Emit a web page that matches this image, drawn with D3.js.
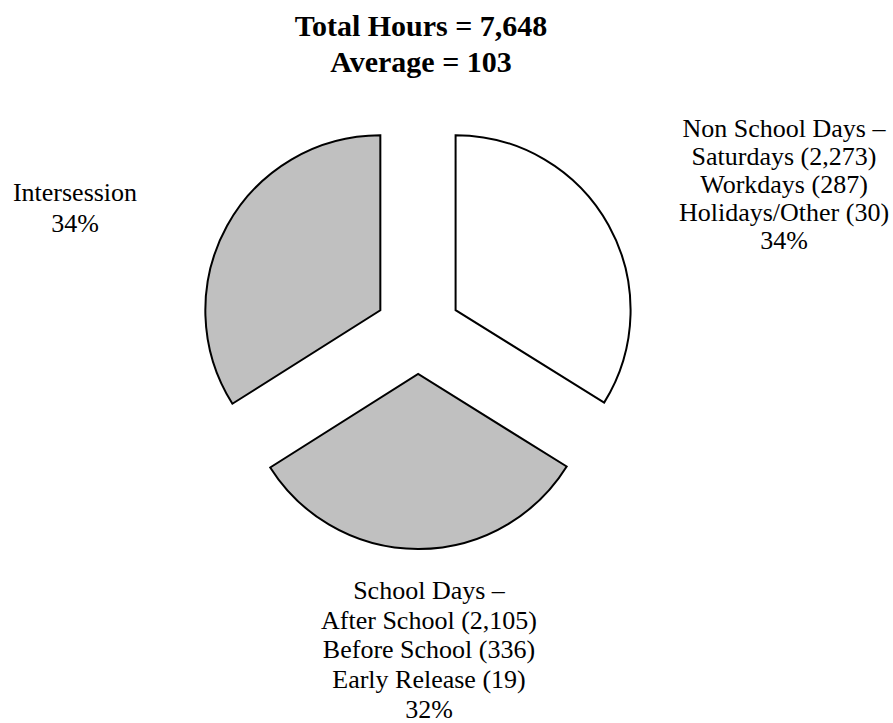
<!DOCTYPE html>
<html>
<head>
<meta charset="utf-8">
<script src="https://cdn.jsdelivr.net/npm/d3@7"></script>
<style>
  body { margin: 0; background: #fff; }
</style>
</head>
<body>
<svg id="chart" width="893" height="723"></svg>
<script>
// data
var totalHours = 7648;
var averageHours = 103;
var categories = ["Non School Days", "School Days", "Intersession"];
var nonSchoolNames = ["Saturdays", "Workdays", "Holidays/Other"];
var nonSchoolHours = [2273, 287, 30];
var schoolNames = ["After School", "Before School", "Early Release"];
var schoolHours = [2105, 336, 19];
// intersession not broken out, remainder of the total
var intersessionHours = totalHours - d3.sum(nonSchoolHours) - d3.sum(schoolHours);
var hours = [d3.sum(nonSchoolHours), d3.sum(schoolHours), intersessionHours];
var fills = ["#ffffff", "#c0c0c0", "#c0c0c0"];

var serif = "'Liberation Serif', 'Times New Roman', Times, serif";
var svg = d3.select("#chart");
var cx = 418, cy = 331, radius = 175, explode = 43;
var fmt = d3.format(",");
var pct = d3.format(".0%");

// title
var title = svg.append("text")
    .attr("text-anchor", "middle")
    .attr("font-family", serif)
    .attr("font-weight", "bold")
    .attr("font-size", 30);
title.append("tspan").attr("x", 421).attr("y", 36).text("Total Hours = " + fmt(totalHours));
title.append("tspan").attr("x", 421).attr("y", 72).text("Average = " + fmt(averageHours));

var pie = d3.pie().sort(null).value(function(d) { return d; });
var arc = d3.arc().innerRadius(0).outerRadius(radius);
var arcs = pie(hours);

var g = svg.append("g").attr("transform", "translate(" + cx + "," + cy + ")");

g.selectAll("path")
    .data(arcs)
    .enter().append("path")
    .attr("d", arc)
    .attr("transform", function(d) {
      var mid = (d.startAngle + d.endAngle) / 2;
      return "translate(" + (Math.sin(mid) * explode) + "," + (-Math.cos(mid) * explode) + ")";
    })
    .style("fill", function(d, i) { return fills[i]; })
    .style("stroke", "#000")
    .style("stroke-width", 2)
    .style("stroke-linejoin", "miter");

// labels
var labelLines = [
  [categories[0] + " \u2013"].concat(nonSchoolNames.map(function(n, i) { return n + " (" + fmt(nonSchoolHours[i]) + ")"; })).concat([pct(hours[0] / totalHours)]),
  [categories[1] + " \u2013"].concat(schoolNames.map(function(n, i) { return n + " (" + fmt(schoolHours[i]) + ")"; })).concat([pct(hours[1] / totalHours)]),
  [categories[2], pct(hours[2] / totalHours)]
];
var labelPos = [
  {x: 784, y: 137, lh: 28},
  {x: 429, y: 599, lh: 29.7},
  {x: 75, y: 201, lh: 31}
];

labelLines.forEach(function(lines, i) {
  var p = labelPos[i];
  var t = svg.append("text")
      .attr("text-anchor", "middle")
      .attr("font-family", serif)
      .attr("font-size", 26);
  t.selectAll("tspan")
      .data(lines)
      .enter().append("tspan")
      .attr("x", p.x)
      .attr("y", function(d, j) { return p.y + j * p.lh; })
      .text(function(d) { return d; });
});
</script>
</body>
</html>
